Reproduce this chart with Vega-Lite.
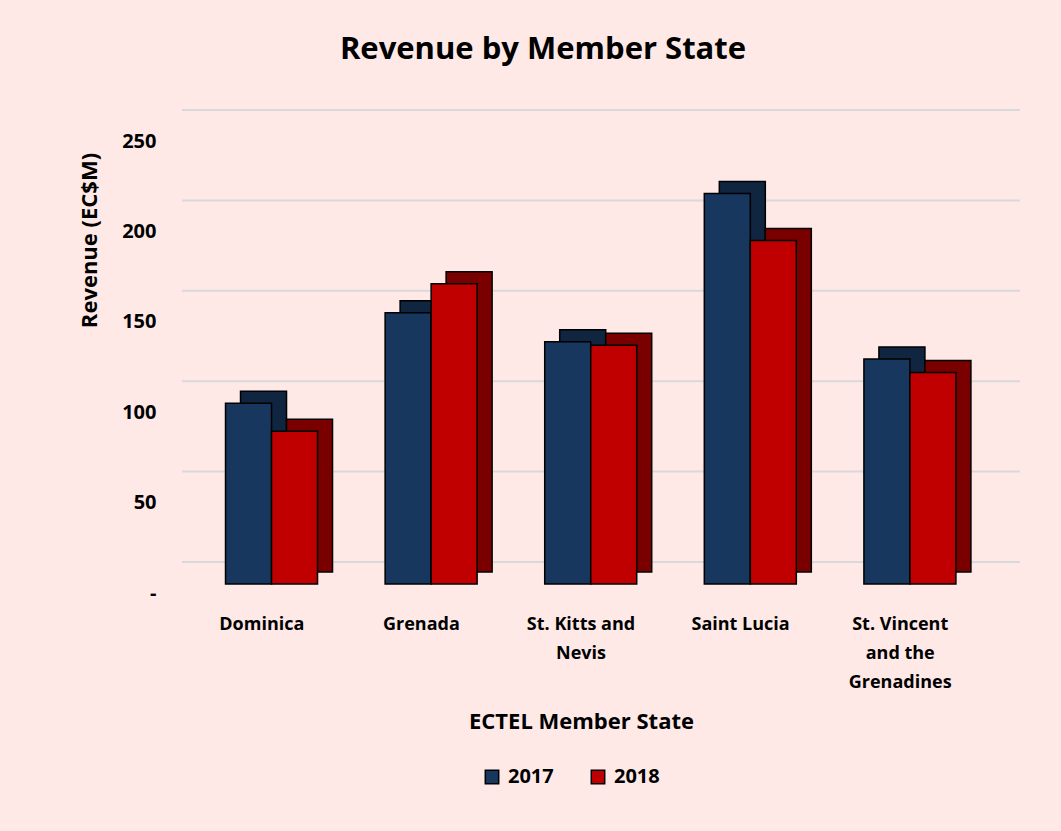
{
  "$schema": "https://vega.github.io/schema/vega-lite/v6.json",
  "autosize": {"type": "none"},
  "width": 798,
  "height": 452,
  "padding": {"left": 182, "top": 141, "right": 81, "bottom": 238},
  "background": "#fee9e7",
  "title": {
    "text": "Revenue by Member State",
    "font": "Open Sans",
    "fontSize": 31,
    "fontWeight": "bold",
    "color": "#000000",
    "anchor": "middle",
    "dx": -38,
    "offset": 43
  },
  "config": {
    "view": {"stroke": null},
    "font": "Open Sans"
  },
  "datasets": {
    "grid": [{"v": 0}, {"v": 50}, {"v": 100}, {"v": 150}, {"v": 200}, {"v": 250}],
    "rev": [
      {"state": "Dominica", "year": "2017", "revenue": 100},
      {"state": "Dominica", "year": "2018", "revenue": 84.5},
      {"state": "Grenada", "year": "2017", "revenue": 150},
      {"state": "Grenada", "year": "2018", "revenue": 166},
      {"state": "St. Kitts and Nevis", "year": "2017", "revenue": 134},
      {"state": "St. Kitts and Nevis", "year": "2018", "revenue": 132},
      {"state": "Saint Lucia", "year": "2017", "revenue": 216},
      {"state": "Saint Lucia", "year": "2018", "revenue": 190},
      {"state": "St. Vincent and the Grenadines", "year": "2017", "revenue": 124.5},
      {"state": "St. Vincent and the Grenadines", "year": "2018", "revenue": 117}
    ]
  },
  "resolve": {"scale": {"xOffset": "independent"}},
  "layer": [
    {
      "data": {"name": "grid"},
      "mark": {"type": "rule", "color": "#d9d9d9", "strokeWidth": 2, "xOffset": 40, "yOffset": -31},
      "encoding": {
        "y": {"field": "v", "type": "quantitative", "scale": {"domain": [0, 250], "nice": false}}
      }
    },
    {
      "data": {"name": "rev"},
      "mark": {"type": "bar", "stroke": "#000000", "strokeWidth": 1.5, "yOffset": -21},
      "encoding": {
        "x": {"field": "state", "type": "nominal", "sort": null},
        "xOffset": {"field": "year", "type": "nominal", "scale": {"paddingInner": 0, "paddingOuter": 0, "range": [25, 117]}},
        "y": {"field": "revenue", "type": "quantitative"},
        "fill": {"condition": {"test": "datum.year == '2017'", "value": "#10253f"}, "value": "#7a0000"}
      }
    },
    {
      "data": {"name": "rev"},
      "mark": {"type": "bar", "stroke": "#000000", "strokeWidth": 1.5, "yOffset": -9},
      "encoding": {
        "x": {
          "field": "state", "type": "nominal", "sort": null,
          "scale": {"paddingInner": 0.42, "paddingOuter": 0.21},
          "axis": {
            "title": "ECTEL Member State",
            "titleFontSize": 22, "titleFontWeight": "bold", "titleColor": "#000000", "titlePadding": 20,
            "labelFontSize": 18, "labelFontWeight": "bold", "labelColor": "#000000",
            "labelAngle": 0, "labelAlign": "center", "labelPadding": 22, "labelLineHeight": 29, "labelBaseline": "top",
            "domain": false, "ticks": false,
            "labelExpr": "datum.label == 'St. Kitts and Nevis' ? ['St. Kitts and', 'Nevis'] : datum.label == 'St. Vincent and the Grenadines' ? ['St. Vincent', 'and the', 'Grenadines'] : datum.label"
          }
        },
        "xOffset": {"field": "year", "type": "nominal", "scale": {"paddingInner": 0, "paddingOuter": 0, "range": [10, 102]}},
        "y": {
          "field": "revenue", "type": "quantitative",
          "axis": {
            "title": "Revenue (EC$M)",
            "titleFontSize": 22, "titleFontWeight": "bold", "titleColor": "#000000",
            "titleY": 99, "titlePadding": 20,
            "values": [0, 50, 100, 150, 200, 250],
            "labelFontSize": 20, "labelFontWeight": "bold", "labelColor": "#000000", "labelPadding": 26,
            "labelExpr": "datum.value == 0 ? '-' : datum.label",
            "domain": false, "ticks": false, "grid": false
          }
        },
        "color": {
          "field": "year", "type": "nominal",
          "scale": {"domain": ["2017", "2018"], "range": ["#17375e", "#c00000"]},
          "legend": {
            "title": null, "orient": "none", "direction": "horizontal",
            "legendX": 300, "legendY": 626,
            "symbolType": "square", "symbolSize": 180, "symbolStrokeColor": "#000000", "symbolStrokeWidth": 1.5,
            "labelFontSize": 20, "labelFontWeight": "bold", "labelColor": "#000000",
            "labelOffset": 6, "columnPadding": 34
          }
        }
      }
    }
  ]
}
